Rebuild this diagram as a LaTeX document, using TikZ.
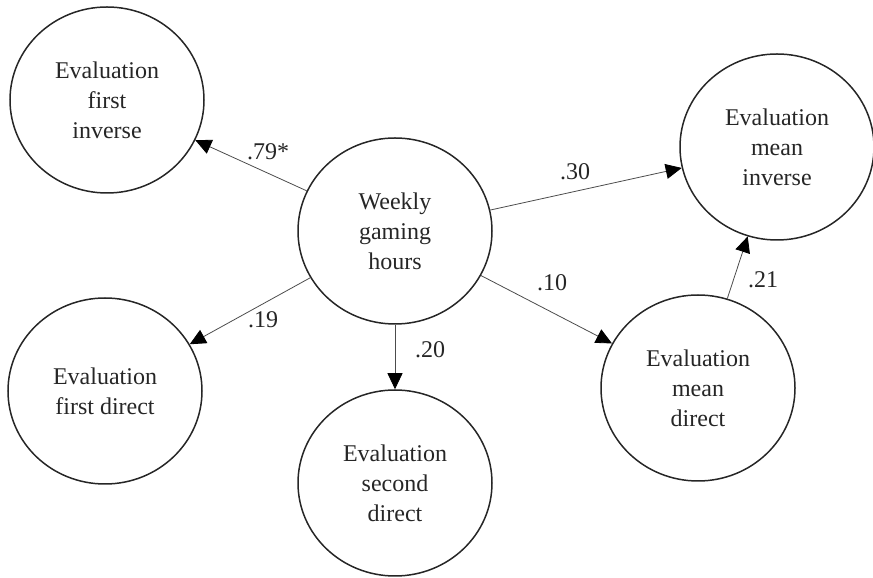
\documentclass[tikz,border=0pt]{standalone}
\usepackage{fontspec}
\setmainfont{Liberation Serif}
\usetikzlibrary{shapes.geometric,arrows.meta}
\begin{document}
\begin{tikzpicture}[x=1pt,y=1pt,
  var/.style={ellipse, draw=black!85, line width=1.5pt, minimum width=194pt, minimum height=186pt, inner sep=0pt, align=center, font=\fontsize{24}{30}\selectfont, text=black!85},
  effect/.style={draw=black!70, line width=0.8pt, -{Triangle[length=16pt,width=15pt,color=black]}},
  lab/.style={font=\fontsize{24}{30}\selectfont, text=black!85, inner sep=0pt}]
\useasboundingbox (0,0) rectangle (873,578);
\node[var] (fi) at (107,478) {Evaluation\\first\\inverse};
\node[var] (wg) at (395,347) {Weekly\\gaming\\hours};
\node[var] (mi) at (777,431) {Evaluation\\mean\\inverse};
\node[var] (fd) at (105,187) {Evaluation\\first direct};
\node[var] (sd) at (395,95) {Evaluation\\second\\direct};
\node[var] (md) at (698,190) {Evaluation\\mean\\direct};
\draw[effect] (wg) -- (fi);
\draw[effect] (wg) -- (mi);
\draw[effect] (wg) -- (fd);
\draw[effect] (wg) -- (sd);
\draw[effect] (wg) -- (md);
\draw[effect] (md) -- (mi);
\node[lab] (l1) at (268,426) {.79*};
\node[lab] (l2) at (575,406) {.30};
\node[lab] (l3) at (263,258) {.19};
\node[lab] (l4) at (430,228) {.20};
\node[lab] (l5) at (552,295) {.10};
\node[lab] (l6) at (763,298) {.21};
\end{tikzpicture}
\end{document}
